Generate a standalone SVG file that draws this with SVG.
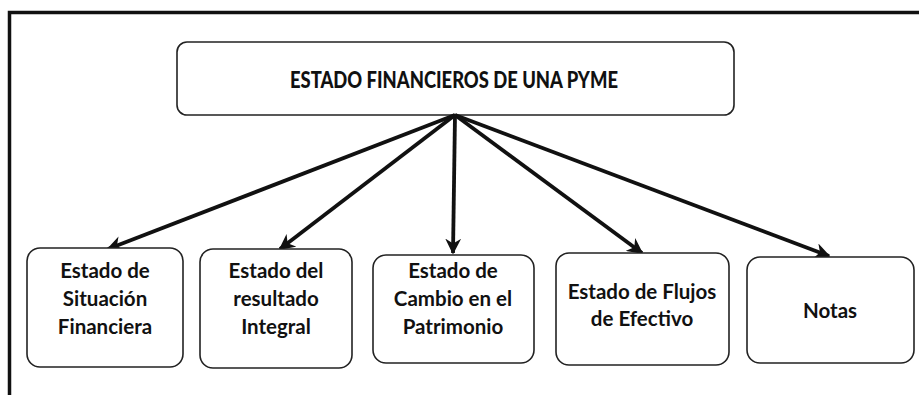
<svg xmlns="http://www.w3.org/2000/svg" width="919" height="395" viewBox="0 0 919 395">
<defs>
<style>
.frame{fill:none;stroke:#111;stroke-width:3.5}
.box{fill:#fff;stroke:#222;stroke-width:1.6}
.t{font-family:Lato,"Open Sans","Liberation Sans",sans-serif;font-size:20.5px;fill:#111;text-anchor:middle;font-weight:bold}
.title{font-family:Lato,"Open Sans","Liberation Sans",sans-serif;font-size:23px;fill:#111;text-anchor:middle;font-weight:900}
.arr{fill:none;stroke:#111;stroke-width:3.8;marker-end:url(#ah)}
</style>
<marker id="ah" viewBox="0 0 10 10" refX="9" refY="5" markerWidth="4.2" markerHeight="4.2" orient="auto" markerUnits="strokeWidth">
<path d="M0,0 L10,5 L0,10 L3,5 Z" fill="#111"/>
</marker>
</defs>
<rect width="919" height="395" fill="#fff"/>
<path class="frame" d="M9.5,395 V12.5 H919"/>
<g id="root">
<rect class="box" x="177" y="42" width="557" height="73" rx="10"/>
<text class="title" x="454" y="88" textLength="328" lengthAdjust="spacingAndGlyphs">ESTADO FINANCIEROS DE UNA PYME</text>
</g>
<g id="connectors">
<line class="arr" x1="455" y1="115" x2="108" y2="249"/>
<line class="arr" x1="455" y1="115" x2="280" y2="249"/>
<line class="arr" x1="455" y1="115" x2="453" y2="253"/>
<line class="arr" x1="455" y1="115" x2="642" y2="253"/>
<line class="arr" x1="455" y1="115" x2="829" y2="256"/>
</g>
<g id="n1">
<rect class="box" x="27" y="248" width="156" height="119" rx="13"/>
<text class="t" x="105" y="278">Estado de</text>
<text class="t" x="105" y="306">Situación</text>
<text class="t" x="105" y="334">Financiera</text>
</g>
<g id="n2">
<rect class="box" x="200" y="249" width="152" height="119" rx="13"/>
<text class="t" x="276" y="278">Estado del</text>
<text class="t" x="276" y="306">resultado</text>
<text class="t" x="276" y="334">Integral</text>
</g>
<g id="n3">
<rect class="box" x="373" y="255" width="161" height="108" rx="13"/>
<text class="t" x="453" y="278">Estado de</text>
<text class="t" x="453" y="306">Cambio en el</text>
<text class="t" x="453" y="334">Patrimonio</text>
</g>
<g id="n4">
<rect class="box" x="556" y="253" width="173" height="112" rx="13"/>
<text class="t" x="642" y="299">Estado de Flujos</text>
<text class="t" x="642" y="326">de Efectivo</text>
</g>
<g id="n5">
<rect class="box" x="747" y="257" width="167" height="106" rx="13"/>
<text class="t" x="830" y="318">Notas</text>
</g>
</svg>
